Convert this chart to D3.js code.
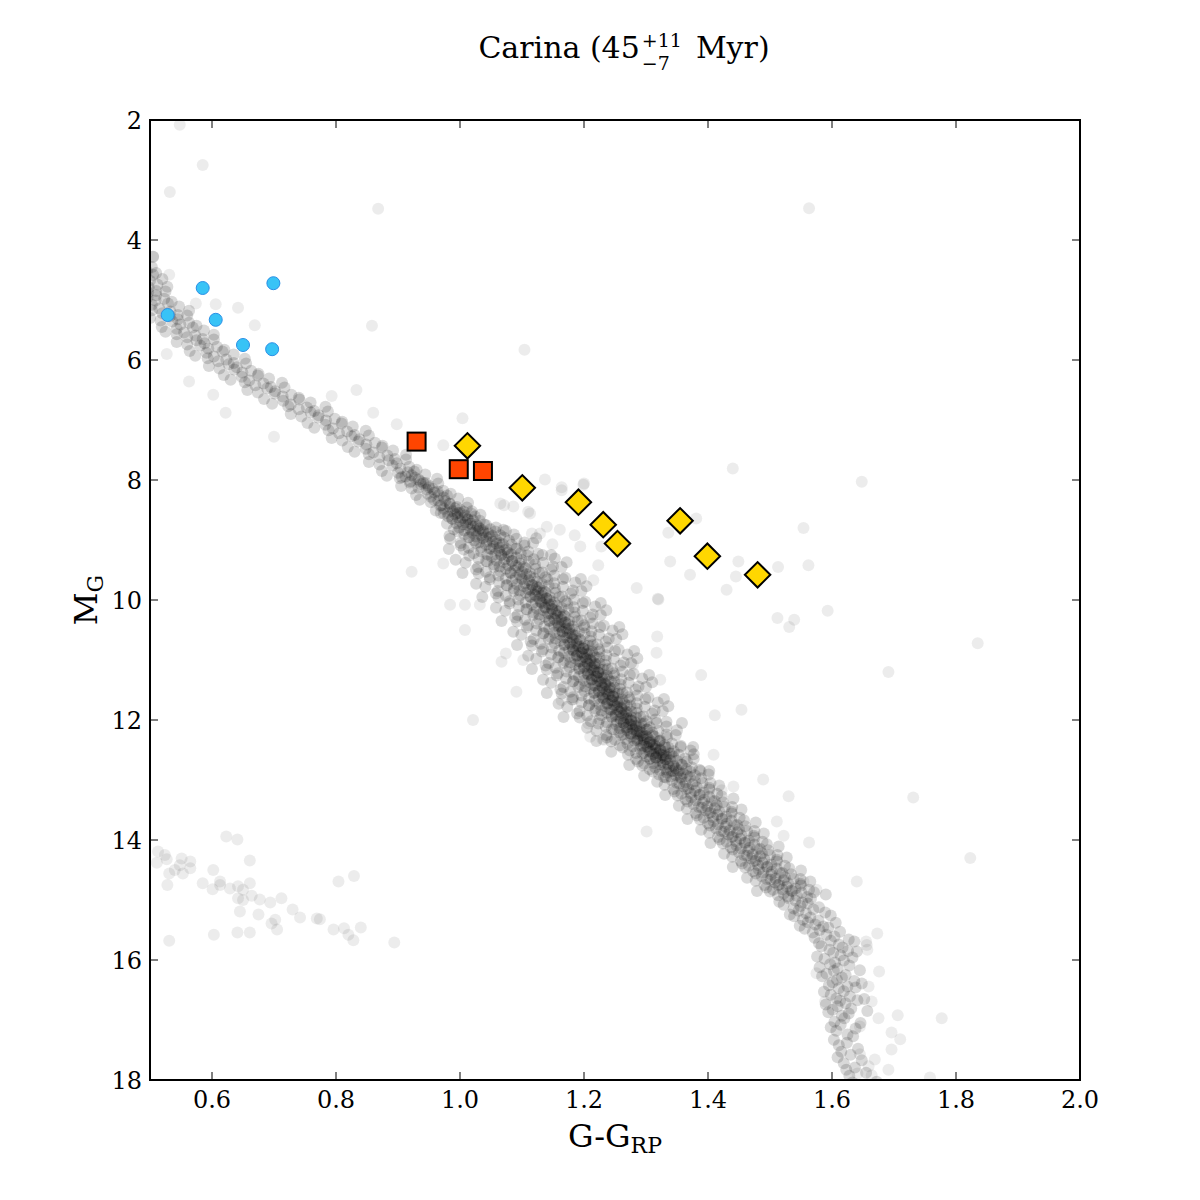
<!DOCTYPE html>
<html>
<head>
<meta charset="utf-8">
<script src="https://cdn.jsdelivr.net/npm/d3@7"></script>
<style>
  body { margin: 0; background: #fff; }
  svg { display: block; }
  text { font-family: "DejaVu Serif", serif; fill: #000; }
</style>
</head>
<body>
<div id="chart"></div>
<script>
// tick values
const xTicks = [0.6, 0.8, 1.0, 1.2, 1.4, 1.6, 1.8, 2.0];
const yTicks = [2, 4, 6, 8, 10, 12, 14, 16, 18];

// cluster sequence (G-G_RP, M_G)
const bandStars = [
  [0.492,4.32],[0.505,4.28],[0.488,4.42],[0.503,4.45],
  [0.495,4.52],[0.485,4.48],[0.510,4.55],[0.490,4.62],[0.505,4.58],[0.520,4.65],
  [0.488,4.72],[0.500,4.68],[0.512,4.74],
  [0.485,4.82],[0.498,4.79],[0.510,4.85],[0.528,4.78],
  [0.482,4.94],[0.497,4.87],[0.510,4.92],[0.525,4.86],
  [0.479,5.05],[0.496,4.96],[0.509,5.01],[0.523,4.98],[0.535,5.03],
  [0.485,5.13],[0.503,5.08],[0.515,5.14],[0.529,5.06],[0.547,5.11],
  [0.503,5.17],[0.520,5.22],[0.533,5.19],[0.545,5.25],[0.563,5.18],
  [0.500,5.30],[0.517,5.34],[0.532,5.27],[0.545,5.32],[0.560,5.26],
  [0.519,5.45],[0.536,5.36],[0.549,5.41],[0.563,5.38],[0.575,5.43],
  [0.525,5.53],[0.543,5.48],[0.555,5.54],[0.569,5.46],[0.587,5.51],
  [0.543,5.57],[0.560,5.62],[0.573,5.59],[0.585,5.65],[0.603,5.58],
  [0.543,5.70],[0.560,5.74],[0.575,5.67],[0.588,5.72],[0.603,5.66],
  [0.564,5.85],[0.581,5.76],[0.594,5.81],[0.608,5.78],[0.620,5.83],
  [0.573,5.93],[0.591,5.88],[0.603,5.94],[0.617,5.86],[0.635,5.91],
  [0.593,5.97],[0.610,6.02],[0.623,5.99],[0.635,6.05],[0.653,5.98],
  [0.595,6.10],[0.612,6.14],[0.627,6.07],[0.640,6.12],[0.655,6.06],
  [0.619,6.25],[0.636,6.16],[0.649,6.21],[0.663,6.18],[0.675,6.23],
  [0.630,6.33],[0.648,6.28],[0.660,6.34],[0.674,6.26],[0.692,6.31],
  [0.653,6.37],[0.670,6.42],[0.683,6.39],[0.695,6.45],[0.713,6.38],
  [0.657,6.50],[0.674,6.54],[0.689,6.47],[0.702,6.52],[0.717,6.46],
  [0.684,6.65],[0.701,6.56],[0.714,6.61],[0.728,6.58],[0.740,6.63],
  [0.697,6.73],[0.715,6.68],[0.727,6.74],[0.741,6.66],[0.759,6.71],
  [0.723,6.77],[0.740,6.82],[0.753,6.79],[0.765,6.85],[0.783,6.78],
  [0.727,6.90],[0.744,6.94],[0.759,6.87],[0.772,6.92],[0.787,6.86],
  [0.754,7.05],[0.771,6.96],[0.784,7.01],[0.798,6.98],[0.810,7.03],
  [0.765,7.13],[0.783,7.08],[0.795,7.14],[0.809,7.06],[0.827,7.11],
  [0.788,7.17],[0.805,7.22],[0.818,7.19],[0.830,7.25],[0.848,7.18],
  [0.793,7.30],[0.810,7.34],[0.825,7.27],[0.838,7.32],[0.853,7.26],
  [0.819,7.45],[0.836,7.36],[0.849,7.41],[0.863,7.38],[0.875,7.43],
  [0.830,7.53],[0.848,7.48],[0.860,7.54],[0.874,7.46],[0.892,7.51],
  [0.853,7.57],[0.870,7.62],[0.883,7.59],[0.895,7.65],[0.913,7.58],
  [0.853,7.70],[0.870,7.74],[0.885,7.67],[0.898,7.72],[0.913,7.66],
  [0.874,7.85],[0.891,7.76],[0.904,7.81],[0.918,7.78],[0.930,7.83],
  [0.882,7.93],[0.900,7.88],[0.912,7.94],[0.926,7.86],[0.944,7.91],[0.906,7.95],[0.916,7.87],[0.922,7.92],
  [0.903,7.97],[0.920,8.02],[0.933,7.99],[0.945,8.05],[0.963,7.98],[0.919,8.04],[0.927,7.96],[0.936,8.02],
  [0.905,8.10],[0.922,8.14],[0.937,8.07],[0.950,8.12],[0.965,8.06],[0.933,8.13],[0.941,8.05],[0.949,8.09],
  [0.929,8.25],[0.946,8.16],[0.959,8.21],[0.973,8.18],[0.985,8.23],[0.948,8.23],[0.956,8.15],[0.964,8.19],
  [0.935,8.33],[0.953,8.28],[0.965,8.34],[0.979,8.26],[0.997,8.31],[0.958,8.33],[0.966,8.25],[0.974,8.29],
  [0.953,8.37],[0.970,8.42],[0.983,8.39],[0.995,8.45],[1.013,8.38],[0.968,8.43],[0.976,8.35],[0.984,8.40],
  [0.961,8.51],[0.969,8.55],[0.974,8.48],[0.980,8.54],[0.984,8.45],[0.988,8.52],[0.992,8.47],[0.996,8.55],[1.000,8.49],[1.006,8.53],[1.011,8.46],[1.019,8.52],
  [0.974,8.56],[0.981,8.61],[0.987,8.64],[0.992,8.57],[0.996,8.62],[1.000,8.55],[1.004,8.63],[1.008,8.59],[1.012,8.65],[1.018,8.56],[1.024,8.61],[1.033,8.58],
  [0.979,8.73],[0.988,8.65],[0.994,8.72],[1.000,8.68],[1.005,8.74],[1.009,8.71],[1.013,8.66],[1.017,8.73],[1.021,8.67],[1.026,8.75],[1.032,8.68],[1.039,8.74],
  [0.990,8.82],[0.999,8.79],[1.007,8.84],[1.012,8.75],[1.017,8.83],[1.021,8.78],[1.025,8.85],[1.029,8.77],[1.032,8.81],[1.037,8.84],[1.042,8.75],[1.049,8.82],[1.058,8.79],[1.070,8.83],
  [0.983,8.93],[0.997,8.86],[1.007,8.91],[1.015,8.95],[1.020,8.88],[1.026,8.94],[1.030,8.85],[1.034,8.92],[1.038,8.87],[1.042,8.95],[1.046,8.89],[1.052,8.93],[1.057,8.86],[1.065,8.92],[1.074,8.85],[1.087,8.91],
  [0.984,8.98],[1.001,9.05],[1.014,8.96],[1.023,9.01],[1.031,9.04],[1.037,8.97],[1.043,9.02],[1.048,8.95],[1.053,9.03],[1.058,8.99],[1.064,9.05],[1.071,8.96],[1.079,9.01],[1.091,8.98],[1.104,9.04],[1.123,8.97],
  [0.982,9.15],[1.001,9.09],[1.014,9.13],[1.026,9.05],[1.034,9.12],[1.042,9.08],[1.048,9.14],[1.054,9.11],[1.059,9.06],[1.064,9.13],[1.069,9.07],[1.075,9.15],[1.083,9.08],[1.092,9.14],[1.104,9.09],[1.118,9.05],
  [1.006,9.16],[1.022,9.22],[1.034,9.19],[1.044,9.24],[1.051,9.15],[1.057,9.23],[1.063,9.18],[1.067,9.25],[1.072,9.17],[1.077,9.21],[1.083,9.24],[1.090,9.15],[1.098,9.22],[1.110,9.19],[1.126,9.23],[1.147,9.25],
  [0.993,9.33],[1.015,9.26],[1.030,9.31],[1.042,9.35],[1.051,9.28],[1.059,9.34],[1.066,9.25],[1.072,9.32],[1.078,9.27],[1.084,9.35],[1.091,9.29],[1.099,9.33],[1.108,9.26],[1.119,9.32],[1.133,9.25],[1.153,9.31],
  [1.009,9.38],[1.029,9.45],[1.044,9.36],[1.055,9.41],[1.064,9.44],[1.071,9.37],[1.078,9.42],[1.084,9.35],[1.090,9.43],[1.096,9.39],[1.103,9.45],[1.111,9.36],[1.121,9.41],[1.134,9.38],[1.150,9.44],[1.172,9.37],
  [1.004,9.55],[1.026,9.49],[1.042,9.53],[1.055,9.45],[1.065,9.52],[1.074,9.48],[1.081,9.54],[1.088,9.51],[1.094,9.46],[1.100,9.53],[1.106,9.47],[1.113,9.55],[1.122,9.48],[1.133,9.54],[1.147,9.49],[1.164,9.45],
  [1.030,9.56],[1.048,9.62],[1.062,9.59],[1.074,9.64],[1.082,9.55],[1.090,9.63],[1.096,9.58],[1.101,9.65],[1.107,9.57],[1.113,9.61],[1.120,9.64],[1.128,9.55],[1.138,9.62],[1.152,9.59],[1.170,9.63],[1.195,9.65],
  [1.026,9.73],[1.048,9.66],[1.063,9.71],[1.075,9.75],[1.084,9.68],[1.092,9.74],[1.099,9.65],[1.105,9.72],[1.111,9.67],[1.117,9.75],[1.124,9.69],[1.132,9.73],[1.141,9.66],[1.152,9.72],[1.166,9.65],[1.186,9.71],
  [1.041,9.78],[1.061,9.85],[1.076,9.76],[1.087,9.81],[1.096,9.84],[1.103,9.77],[1.110,9.82],[1.116,9.75],[1.122,9.83],[1.128,9.79],[1.135,9.85],[1.143,9.76],[1.153,9.81],[1.166,9.78],[1.182,9.84],[1.204,9.77],[1.114,9.83],[1.124,9.78],
  [1.036,9.95],[1.058,9.89],[1.074,9.93],[1.087,9.85],[1.097,9.92],[1.106,9.88],[1.113,9.94],[1.120,9.91],[1.126,9.86],[1.132,9.93],[1.138,9.87],[1.145,9.95],[1.154,9.88],[1.165,9.94],[1.179,9.89],[1.196,9.85],[1.122,9.93],[1.132,9.88],
  [1.062,9.96],[1.080,10.02],[1.094,9.99],[1.106,10.04],[1.114,9.95],[1.122,10.03],[1.128,9.98],[1.133,10.05],[1.139,9.97],[1.145,10.01],[1.152,10.04],[1.160,9.95],[1.170,10.02],[1.184,9.99],[1.202,10.03],[1.227,10.05],[1.130,10.03],[1.140,9.98],
  [1.058,10.13],[1.080,10.06],[1.095,10.11],[1.107,10.15],[1.116,10.08],[1.124,10.14],[1.131,10.05],[1.137,10.12],[1.143,10.07],[1.149,10.15],[1.156,10.09],[1.164,10.13],[1.173,10.06],[1.184,10.12],[1.198,10.05],[1.218,10.11],[1.138,10.13],[1.148,10.08],
  [1.073,10.18],[1.093,10.25],[1.108,10.16],[1.119,10.21],[1.128,10.24],[1.135,10.17],[1.142,10.22],[1.148,10.15],[1.154,10.23],[1.160,10.19],[1.167,10.25],[1.175,10.16],[1.185,10.21],[1.198,10.18],[1.214,10.24],[1.236,10.17],[1.146,10.23],[1.156,10.18],
  [1.067,10.35],[1.089,10.29],[1.105,10.33],[1.118,10.25],[1.128,10.32],[1.137,10.28],[1.144,10.34],[1.151,10.31],[1.157,10.26],[1.163,10.33],[1.169,10.27],[1.176,10.35],[1.185,10.28],[1.196,10.34],[1.210,10.29],[1.227,10.25],[1.153,10.33],[1.163,10.28],
  [1.092,10.36],[1.110,10.42],[1.124,10.39],[1.136,10.44],[1.144,10.35],[1.152,10.43],[1.158,10.38],[1.163,10.45],[1.169,10.37],[1.175,10.41],[1.182,10.44],[1.190,10.35],[1.200,10.42],[1.214,10.39],[1.232,10.43],[1.257,10.45],[1.160,10.43],[1.170,10.38],
  [1.086,10.53],[1.108,10.46],[1.123,10.51],[1.135,10.55],[1.144,10.48],[1.152,10.54],[1.159,10.45],[1.165,10.52],[1.171,10.47],[1.177,10.55],[1.184,10.49],[1.192,10.53],[1.201,10.46],[1.212,10.52],[1.226,10.45],[1.246,10.51],[1.166,10.53],[1.176,10.48],
  [1.099,10.58],[1.119,10.65],[1.134,10.56],[1.145,10.61],[1.154,10.64],[1.161,10.57],[1.168,10.62],[1.174,10.55],[1.180,10.63],[1.186,10.59],[1.193,10.65],[1.201,10.56],[1.211,10.61],[1.224,10.58],[1.240,10.64],[1.262,10.57],[1.172,10.63],[1.182,10.58],
  [1.092,10.75],[1.114,10.69],[1.130,10.73],[1.143,10.65],[1.153,10.72],[1.162,10.68],[1.169,10.74],[1.176,10.71],[1.182,10.66],[1.188,10.73],[1.194,10.67],[1.201,10.75],[1.210,10.68],[1.221,10.74],[1.235,10.69],[1.252,10.65],[1.178,10.73],[1.188,10.68],
  [1.116,10.76],[1.134,10.82],[1.148,10.79],[1.160,10.84],[1.168,10.75],[1.176,10.83],[1.182,10.78],[1.187,10.85],[1.193,10.77],[1.199,10.81],[1.206,10.84],[1.214,10.75],[1.224,10.82],[1.238,10.79],[1.256,10.83],[1.281,10.85],
  [1.182,10.83],[1.191,10.78],[1.199,10.81],[1.207,10.76],
  [1.110,10.93],[1.132,10.86],[1.147,10.91],[1.159,10.95],[1.168,10.88],[1.176,10.94],[1.183,10.85],[1.189,10.92],[1.195,10.87],[1.201,10.95],[1.208,10.89],[1.216,10.93],[1.225,10.86],[1.236,10.92],[1.250,10.85],[1.270,10.91],
  [1.188,10.93],[1.197,10.88],[1.205,10.91],[1.213,10.86],
  [1.123,10.98],[1.143,11.05],[1.158,10.96],[1.169,11.01],[1.178,11.04],[1.185,10.97],[1.192,11.02],[1.198,10.95],[1.204,11.03],[1.210,10.99],[1.217,11.05],[1.225,10.96],[1.235,11.01],[1.248,10.98],[1.264,11.04],[1.286,10.97],
  [1.194,11.03],[1.203,10.98],[1.211,11.01],[1.219,10.96],
  [1.116,11.15],[1.138,11.09],[1.154,11.13],[1.167,11.05],[1.177,11.12],[1.186,11.08],[1.193,11.14],[1.200,11.11],[1.206,11.06],[1.212,11.13],[1.218,11.07],[1.225,11.15],[1.234,11.08],[1.245,11.14],[1.259,11.09],[1.276,11.05],
  [1.200,11.13],[1.209,11.08],[1.217,11.11],[1.225,11.06],
  [1.140,11.16],[1.158,11.22],[1.172,11.19],[1.184,11.24],[1.192,11.15],[1.200,11.23],[1.206,11.18],[1.211,11.25],[1.217,11.17],[1.223,11.21],[1.230,11.24],[1.238,11.15],[1.248,11.22],[1.262,11.19],[1.280,11.23],[1.305,11.25],
  [1.206,11.23],[1.215,11.18],[1.223,11.21],[1.231,11.16],
  [1.134,11.33],[1.156,11.26],[1.171,11.31],[1.183,11.35],[1.192,11.28],[1.200,11.34],[1.207,11.25],[1.213,11.32],[1.219,11.27],[1.225,11.35],[1.232,11.29],[1.240,11.33],[1.249,11.26],[1.260,11.32],[1.274,11.25],[1.294,11.31],
  [1.212,11.33],[1.221,11.28],[1.229,11.31],[1.237,11.26],
  [1.147,11.38],[1.167,11.45],[1.182,11.36],[1.193,11.41],[1.202,11.44],[1.209,11.37],[1.216,11.42],[1.222,11.35],[1.228,11.43],[1.234,11.39],[1.241,11.45],[1.249,11.36],[1.259,11.41],[1.272,11.38],[1.288,11.44],[1.310,11.37],
  [1.218,11.43],[1.227,11.38],[1.235,11.41],[1.243,11.36],
  [1.140,11.55],[1.162,11.49],[1.178,11.53],[1.191,11.45],[1.201,11.52],[1.210,11.48],[1.217,11.54],[1.224,11.51],[1.230,11.46],[1.236,11.53],[1.242,11.47],[1.249,11.55],[1.258,11.48],[1.269,11.54],[1.283,11.49],[1.300,11.45],
  [1.224,11.53],[1.233,11.48],[1.241,11.51],[1.249,11.46],
  [1.164,11.56],[1.182,11.62],[1.196,11.59],[1.208,11.64],[1.216,11.55],[1.224,11.63],[1.230,11.58],[1.235,11.65],[1.241,11.57],[1.247,11.61],[1.254,11.64],[1.262,11.55],[1.272,11.62],[1.286,11.59],[1.304,11.63],[1.329,11.65],
  [1.230,11.63],[1.239,11.58],[1.247,11.61],[1.255,11.56],
  [1.159,11.73],[1.181,11.66],[1.196,11.71],[1.208,11.75],[1.217,11.68],[1.225,11.74],[1.232,11.65],[1.238,11.72],[1.244,11.67],[1.250,11.75],[1.257,11.69],[1.265,11.73],[1.274,11.66],[1.285,11.72],[1.299,11.65],[1.319,11.71],
  [1.237,11.73],[1.246,11.68],[1.254,11.71],[1.262,11.66],
  [1.173,11.78],[1.193,11.85],[1.208,11.76],[1.219,11.81],[1.228,11.84],[1.235,11.77],[1.242,11.82],[1.248,11.75],[1.254,11.83],[1.260,11.79],[1.267,11.85],[1.275,11.76],[1.285,11.81],[1.298,11.78],[1.314,11.84],[1.336,11.77],
  [1.244,11.83],[1.253,11.78],[1.261,11.81],[1.269,11.76],
  [1.167,11.95],[1.189,11.89],[1.205,11.93],[1.218,11.85],[1.228,11.92],[1.237,11.88],[1.244,11.94],[1.251,11.91],[1.257,11.86],[1.263,11.93],[1.269,11.87],[1.276,11.95],[1.285,11.88],[1.296,11.94],[1.310,11.89],[1.327,11.85],
  [1.251,11.93],[1.260,11.88],[1.268,11.91],[1.276,11.86],
  [1.193,11.96],[1.211,12.02],[1.225,11.99],[1.237,12.04],[1.245,11.95],[1.253,12.03],[1.259,11.98],[1.264,12.05],[1.270,11.97],[1.276,12.01],[1.283,12.04],[1.291,11.95],[1.301,12.02],[1.315,11.99],[1.333,12.03],[1.358,12.05],
  [1.259,12.03],[1.268,11.98],[1.276,12.01],[1.284,11.96],
  [1.205,12.13],[1.223,12.06],[1.235,12.11],[1.245,12.15],[1.252,12.08],[1.258,12.14],[1.264,12.05],[1.269,12.12],[1.273,12.07],[1.278,12.15],[1.284,12.09],[1.290,12.13],[1.297,12.06],[1.306,12.12],[1.317,12.05],[1.333,12.11],
  [1.267,12.13],[1.276,12.08],[1.284,12.11],[1.292,12.06],
  [1.220,12.18],[1.236,12.25],[1.248,12.16],[1.257,12.21],[1.264,12.24],[1.270,12.17],[1.275,12.22],[1.280,12.15],[1.285,12.23],[1.290,12.19],[1.295,12.25],[1.302,12.16],[1.310,12.21],[1.320,12.18],[1.333,12.24],[1.350,12.17],
  [1.276,12.23],[1.285,12.18],[1.293,12.21],[1.301,12.16],
  [1.220,12.35],[1.237,12.29],[1.250,12.33],[1.260,12.25],[1.268,12.32],[1.276,12.28],[1.281,12.34],[1.287,12.31],[1.292,12.26],[1.296,12.33],[1.301,12.27],[1.307,12.35],[1.314,12.28],[1.323,12.34],[1.334,12.29],[1.348,12.25],
  [1.286,12.33],[1.295,12.28],[1.303,12.31],[1.311,12.26],
  [1.244,12.36],[1.258,12.42],[1.270,12.39],[1.279,12.44],[1.286,12.35],[1.292,12.43],[1.297,12.38],[1.301,12.45],[1.306,12.37],[1.310,12.41],[1.316,12.44],[1.322,12.35],[1.330,12.42],[1.342,12.39],[1.356,12.43],[1.376,12.45],
  [1.296,12.43],[1.305,12.38],[1.313,12.41],[1.321,12.36],
  [1.244,12.53],[1.262,12.46],[1.274,12.51],[1.284,12.55],[1.291,12.48],[1.297,12.54],[1.303,12.45],[1.308,12.52],[1.312,12.47],[1.317,12.55],[1.323,12.49],[1.329,12.53],[1.336,12.46],[1.345,12.52],[1.356,12.45],[1.372,12.51],
  [1.306,12.53],[1.315,12.48],[1.323,12.51],[1.331,12.46],
  [1.271,12.58],[1.284,12.65],[1.294,12.56],[1.301,12.61],[1.307,12.64],[1.312,12.57],[1.316,12.62],[1.320,12.55],[1.324,12.63],[1.328,12.59],[1.332,12.65],[1.338,12.56],[1.344,12.61],[1.353,12.58],[1.363,12.64],[1.377,12.57],
  [1.316,12.63],[1.325,12.58],[1.333,12.61],[1.341,12.56],
  [1.273,12.75],[1.287,12.69],[1.297,12.73],[1.306,12.65],[1.312,12.72],[1.318,12.68],[1.323,12.74],[1.327,12.71],[1.331,12.66],[1.335,12.73],[1.339,12.67],[1.344,12.75],[1.350,12.68],[1.357,12.74],[1.366,12.69],[1.377,12.65],
  [1.294,12.76],[1.306,12.82],[1.315,12.79],[1.323,12.84],[1.328,12.75],[1.333,12.83],[1.337,12.78],[1.341,12.85],[1.345,12.77],[1.348,12.81],[1.353,12.84],[1.358,12.75],[1.365,12.82],[1.374,12.79],[1.386,12.83],[1.402,12.85],
  [1.297,12.93],[1.311,12.86],[1.321,12.91],[1.329,12.95],[1.334,12.88],[1.340,12.94],[1.344,12.85],[1.348,12.92],[1.352,12.87],[1.356,12.95],[1.360,12.89],[1.366,12.93],[1.371,12.86],[1.379,12.92],[1.388,12.85],[1.401,12.91],
  [1.318,13.03],[1.332,12.96],[1.342,13.01],[1.350,13.05],[1.357,12.98],[1.364,13.04],[1.371,12.95],[1.379,13.02],[1.389,12.97],[1.404,13.05],
  [1.330,13.08],[1.344,13.15],[1.354,13.06],[1.361,13.11],[1.368,13.14],[1.375,13.07],[1.382,13.12],[1.391,13.05],[1.402,13.13],[1.418,13.09],
  [1.331,13.25],[1.346,13.19],[1.357,13.23],[1.365,13.15],[1.372,13.22],[1.379,13.18],[1.386,13.24],[1.393,13.21],[1.402,13.16],[1.415,13.23],
  [1.351,13.26],[1.364,13.32],[1.373,13.29],[1.380,13.34],[1.387,13.25],[1.394,13.33],[1.402,13.28],[1.411,13.35],[1.422,13.27],[1.441,13.31],
  [1.353,13.43],[1.367,13.36],[1.377,13.41],[1.385,13.45],[1.392,13.38],[1.399,13.44],[1.406,13.35],[1.414,13.42],[1.424,13.37],[1.439,13.45],
  [1.366,13.48],[1.380,13.55],[1.390,13.46],[1.397,13.51],[1.404,13.54],[1.411,13.47],[1.418,13.52],[1.427,13.45],[1.438,13.53],[1.454,13.49],
  [1.367,13.65],[1.382,13.59],[1.393,13.63],[1.401,13.55],[1.408,13.62],[1.415,13.58],[1.422,13.64],[1.429,13.61],[1.438,13.56],[1.451,13.63],
  [1.387,13.66],[1.400,13.72],[1.409,13.69],[1.416,13.74],[1.423,13.65],[1.430,13.73],[1.438,13.68],[1.447,13.75],[1.458,13.67],[1.477,13.71],
  [1.389,13.83],[1.403,13.76],[1.413,13.81],[1.421,13.85],[1.428,13.78],[1.435,13.84],[1.442,13.75],[1.450,13.82],[1.460,13.77],[1.475,13.85],
  [1.402,13.88],[1.416,13.95],[1.426,13.86],[1.433,13.91],[1.440,13.94],[1.447,13.87],[1.454,13.92],[1.463,13.85],[1.474,13.93],[1.490,13.89],
  [1.404,14.05],[1.419,13.99],[1.430,14.03],[1.438,13.95],[1.445,14.02],[1.452,13.98],[1.459,14.04],[1.466,14.01],[1.475,13.96],[1.488,14.03],
  [1.424,14.06],[1.437,14.12],[1.446,14.09],[1.453,14.14],[1.460,14.05],[1.467,14.13],[1.475,14.08],[1.484,14.15],[1.495,14.07],[1.514,14.11],
  [1.426,14.23],[1.440,14.16],[1.450,14.21],[1.458,14.25],[1.465,14.18],[1.472,14.24],[1.479,14.15],[1.487,14.22],[1.497,14.17],[1.512,14.25],
  [1.439,14.28],[1.453,14.35],[1.463,14.26],[1.470,14.31],[1.477,14.34],[1.484,14.27],[1.491,14.32],[1.500,14.25],[1.511,14.33],[1.527,14.29],
  [1.440,14.45],[1.455,14.39],[1.466,14.43],[1.474,14.35],[1.481,14.42],[1.488,14.38],[1.495,14.44],[1.502,14.41],[1.511,14.36],[1.524,14.43],
  [1.460,14.46],[1.473,14.52],[1.482,14.49],[1.489,14.54],[1.496,14.45],[1.503,14.53],[1.511,14.48],[1.520,14.55],[1.531,14.47],[1.550,14.51],
  [1.463,14.63],[1.477,14.56],[1.487,14.61],[1.495,14.65],[1.502,14.58],[1.509,14.64],[1.516,14.55],[1.524,14.62],[1.534,14.57],[1.549,14.65],
  [1.477,14.68],[1.491,14.75],[1.501,14.66],[1.508,14.71],[1.515,14.74],[1.522,14.67],[1.529,14.72],[1.538,14.65],[1.549,14.73],[1.565,14.69],
  [1.479,14.85],[1.494,14.79],[1.505,14.83],[1.513,14.75],[1.520,14.82],[1.527,14.78],[1.534,14.84],[1.541,14.81],[1.550,14.76],[1.563,14.83],
  [1.500,14.86],[1.513,14.92],[1.522,14.89],[1.529,14.94],[1.536,14.85],[1.543,14.93],[1.551,14.88],[1.560,14.95],[1.571,14.87],[1.590,14.91],
  [1.515,15.03],[1.530,14.97],[1.541,15.01],[1.552,15.04],[1.566,14.98],
  [1.522,15.08],[1.538,15.14],[1.549,15.10],[1.561,15.06],[1.579,15.12],
  [1.532,15.24],[1.546,15.18],[1.558,15.22],[1.570,15.16],[1.589,15.21],
  [1.539,15.27],[1.553,15.33],[1.565,15.29],[1.578,15.34],[1.598,15.26],
  [1.548,15.43],[1.561,15.37],[1.573,15.41],[1.586,15.44],[1.606,15.38],
  [1.556,15.48],[1.569,15.54],[1.580,15.50],[1.594,15.46],[1.613,15.53],
  [1.572,15.63],[1.591,15.58],[1.604,15.61],[1.627,15.66],
  [1.579,15.72],[1.598,15.68],[1.611,15.74],[1.636,15.69],
  [1.583,15.77],[1.596,15.83],[1.617,15.79],[1.626,15.85],
  [1.576,15.94],[1.602,15.88],[1.614,15.92],[1.640,15.86],
  [1.588,15.98],[1.605,16.04],[1.619,16.01],[1.633,15.96],
  [1.580,16.12],[1.597,16.07],[1.609,16.14],[1.628,16.09],
  [1.591,16.23],[1.603,16.18],[1.622,16.25],[1.645,16.17],
  [1.584,16.27],[1.608,16.33],[1.616,16.29],[1.636,16.35],
  [1.595,16.42],[1.601,16.37],[1.625,16.44],[1.648,16.39],
  [1.587,16.53],[1.611,16.47],[1.619,16.52],[1.638,16.46],
  [1.598,16.58],[1.607,16.64],[1.629,16.61],[1.652,16.65],
  [1.590,16.74],[1.613,16.68],[1.622,16.72],[1.641,16.67],
  [1.601,16.83],[1.609,16.77],[1.631,16.81],[1.657,16.85],
  [1.594,16.87],[1.616,16.93],[1.627,16.89],
  [1.604,17.03],[1.620,16.97],[1.646,17.05],
  [1.598,17.12],[1.614,17.08],[1.638,17.14],
  [1.607,17.18],[1.625,17.24],[1.603,17.33],[1.634,17.27],
  [1.611,17.42],[1.624,17.38],[1.615,17.53],[1.642,17.48],
  [1.609,17.62],[1.630,17.58],[1.619,17.72],[1.648,17.67],
  [1.623,17.83],[1.637,17.79],[1.628,17.93],[1.655,17.88],
  [1.633,18.04],[1.672,18.03]
];

// scattered field stars and the faint sequence at lower left
const fieldStars = [
  [0.548,2.08],[0.585,2.75],[0.532,3.20],[0.868,3.48],[1.563,3.47],[0.505,4.28],[0.531,4.58],
  [0.574,5.06],[0.606,5.07],[0.642,5.13],[0.669,5.42],[0.858,5.43],[1.104,5.83],[0.527,5.90],
  [0.563,6.36],[0.602,6.58],[0.622,6.88],[0.833,6.50],[0.793,6.60],[0.860,6.88],[0.898,7.07],
  [1.004,6.97],[0.700,7.28],[0.973,7.42],[1.440,7.81],[1.648,8.03],[1.137,7.99],[1.164,8.12],
  [1.200,8.06],[1.065,8.39],[1.086,8.44],[1.110,8.53],[1.071,8.42],[1.129,8.89],[1.140,8.78],
  [1.116,8.89],[1.336,8.88],[1.381,8.64],[1.339,9.36],[1.371,9.58],[1.449,9.36],[1.513,9.45],
  [1.430,9.83],[1.285,9.80],[1.215,9.67],[0.922,9.53],[0.973,9.39],[1.554,8.80],[1.445,9.61],
  [1.562,9.42],[1.320,9.99],[1.512,10.30],[1.539,10.33],[1.531,10.45],[1.593,10.18],[1.835,10.72],
  [1.691,11.20],[1.389,11.25],[1.317,10.88],[0.984,10.08],[1.008,10.08],[1.032,10.08],[1.008,10.50],
  [1.021,12.00],[1.091,11.53],[1.067,11.03],[1.074,10.89],[1.102,11.00],[1.164,11.67],[1.183,11.66],
  [1.210,12.28],[1.230,12.32],[1.207,12.06],[1.411,11.92],[1.454,11.83],[1.318,10.61],[1.319,9.98],
  [1.279,11.08],[1.323,11.33],[1.409,12.58],[1.441,13.11],[1.422,13.17],[1.228,9.11],[1.223,9.42],
  [1.185,8.92],[1.161,8.83],[1.194,9.11],[1.149,9.07],[1.113,8.56],[1.164,8.17],[1.199,8.08],
  [1.489,12.99],[1.530,13.27],[1.301,13.86],[1.511,13.69],[1.522,13.93],[1.563,14.04],[1.731,13.29],
  [1.640,14.69],[1.673,15.56],[1.656,15.75],[1.676,16.19],[1.706,16.92],[1.575,16.22],[1.575,14.83],
  [1.554,14.69],[1.232,12.33],[1.823,14.30],[1.777,16.97],[1.696,17.21],[1.710,17.32],[1.696,17.49],
  [1.669,17.66],[1.659,17.77],[1.691,17.83],[1.645,17.57],[1.758,17.96],[1.675,16.97],[1.659,16.44],
  [1.664,16.69],[1.645,17.11],[1.589,16.69],[1.655,15.69],[1.657,15.83],[1.641,17.89],[1.664,17.92],
  [0.511,14.38],[0.524,14.25],[0.527,14.32],[0.513,14.19],[0.551,14.31],[0.565,14.36],[0.548,14.42],
  [0.540,14.50],[0.531,14.56],[0.553,14.56],[0.565,14.47],[0.528,14.75],[0.531,15.68],[0.585,14.72],
  [0.602,14.50],[0.601,14.82],[0.613,14.69],[0.613,14.75],[0.629,14.81],[0.642,14.77],[0.650,14.83],
  [0.661,14.72],[0.664,14.93],[0.642,14.97],[0.650,15.00],[0.677,14.99],[0.694,15.04],[0.712,14.97],
  [0.645,15.19],[0.675,15.24],[0.696,15.39],[0.702,15.33],[0.705,15.49],[0.730,15.16],[0.742,15.29],
  [0.769,15.31],[0.774,15.32],[0.796,15.49],[0.813,15.47],[0.820,15.58],[0.828,15.67],[0.840,15.46],
  [0.894,15.71],[0.804,14.69],[0.829,14.60],[0.661,14.34],[0.623,13.94],[0.641,13.99],[0.603,15.58],
  [0.641,15.54],[0.661,15.54]
];

// highlighted stars
const blueStars = [[0.5285,5.25],[0.585,4.80],[0.699,4.72],[0.606,5.33],[0.650,5.75],[0.697,5.82]];
const redStars = [[0.930,7.36],[0.998,7.82],[1.037,7.85]];
const goldStars = [[1.012,7.43],[1.1005,8.13],[1.191,8.37],[1.231,8.745],[1.254,9.06],[1.355,8.68],[1.399,9.27],[1.480,9.58]];

const width = 1200;
const height = 1200;
const margin = { top: 120, right: 120, bottom: 120, left: 150 };
const plotW = width - margin.left - margin.right;
const plotH = height - margin.top - margin.bottom;

const svg = d3.select('#chart')
  .append('svg')
  .attr('width', width)
  .attr('height', height);

const xScale = d3.scaleLinear().domain([0.5, 2.0]).range([margin.left, margin.left + plotW]);
const yScale = d3.scaleLinear().domain([2, 18]).range([margin.top, margin.top + plotH]);

svg.append('defs').append('clipPath')
  .attr('id', 'plot-clip')
  .append('rect')
  .attr('x', margin.left).attr('y', margin.top)
  .attr('width', plotW).attr('height', plotH);

const plot = svg.append('g').attr('clip-path', 'url(#plot-clip)');

// gray background stars
plot.append('g')
  .selectAll('circle')
  .data(fieldStars)
  .join('circle')
  .attr('cx', d => xScale(d[0]))
  .attr('cy', d => yScale(d[1]))
  .attr('r', 6)
  .attr('fill', '#000')
  .attr('fill-opacity', 0.075);

plot.append('g')
  .selectAll('circle')
  .data(bandStars)
  .join('circle')
  .attr('cx', d => xScale(d[0]))
  .attr('cy', d => yScale(d[1]))
  .attr('r', 6)
  .attr('fill', '#000')
  .attr('fill-opacity', 0.15);

// blue circles
plot.append('g')
  .selectAll('circle')
  .data(blueStars)
  .join('circle')
  .attr('cx', d => xScale(d[0]))
  .attr('cy', d => yScale(d[1]))
  .attr('r', 6.5)
  .attr('fill', '#38c3f6')
  .attr('stroke', '#2a8fe6')
  .attr('stroke-width', 1);

// red squares
plot.append('g')
  .selectAll('rect')
  .data(redStars)
  .join('rect')
  .attr('x', d => xScale(d[0]) - 9)
  .attr('y', d => yScale(d[1]) - 9)
  .attr('width', 18)
  .attr('height', 18)
  .attr('fill', '#ff4500')
  .attr('stroke', '#000')
  .attr('stroke-width', 2);

// gold diamonds
const diamond = d3.symbol().type(d3.symbolSquare).size(18 * 18);
plot.append('g')
  .selectAll('path')
  .data(goldStars)
  .join('path')
  .attr('d', diamond)
  .attr('transform', d => `translate(${xScale(d[0])},${yScale(d[1])}) rotate(45)`)
  .attr('fill', '#ffd700')
  .attr('stroke', '#000')
  .attr('stroke-width', 2);

// ticks (inward, on all four sides)
const tickLen = 8;
const ticks = svg.append('g').attr('stroke', '#000').attr('stroke-width', 1);
xTicks.forEach(t => {
  const x = xScale(t);
  ticks.append('line').attr('x1', x).attr('x2', x)
    .attr('y1', margin.top + plotH).attr('y2', margin.top + plotH - tickLen);
  ticks.append('line').attr('x1', x).attr('x2', x)
    .attr('y1', margin.top).attr('y2', margin.top + tickLen);
});
yTicks.forEach(t => {
  const y = yScale(t);
  ticks.append('line').attr('y1', y).attr('y2', y)
    .attr('x1', margin.left).attr('x2', margin.left + tickLen);
  ticks.append('line').attr('y1', y).attr('y2', y)
    .attr('x1', margin.left + plotW).attr('x2', margin.left + plotW - tickLen);
});

// frame
svg.append('rect')
  .attr('x', margin.left).attr('y', margin.top)
  .attr('width', plotW).attr('height', plotH)
  .attr('fill', 'none')
  .attr('stroke', '#000')
  .attr('stroke-width', 2);

// tick labels
svg.append('g')
  .selectAll('text')
  .data(xTicks)
  .join('text')
  .attr('x', d => xScale(d))
  .attr('y', margin.top + plotH + 28)
  .attr('text-anchor', 'middle')
  .attr('font-size', 24)
  .text(d => d3.format('.1f')(d));

svg.append('g')
  .selectAll('text')
  .data(yTicks)
  .join('text')
  .attr('x', margin.left - 8)
  .attr('y', d => yScale(d))
  .attr('dy', '0.36em')
  .attr('text-anchor', 'end')
  .attr('font-size', 24)
  .text(d => d);

// axis titles
const xLabel = svg.append('text')
  .attr('x', margin.left + plotW / 2)
  .attr('y', 1147)
  .attr('text-anchor', 'middle')
  .attr('font-size', 32);
xLabel.append('tspan').text('G-G');
xLabel.append('tspan').attr('dy', 6).attr('font-size', 22).text('RP');

const yLabel = svg.append('text')
  .attr('transform', `translate(97, ${margin.top + plotH / 2}) rotate(-90)`)
  .attr('text-anchor', 'middle')
  .attr('font-size', 32);
yLabel.append('tspan').text('M');
yLabel.append('tspan').attr('dy', 6).attr('font-size', 22).text('G');

// title with stacked age errors
const titleG = svg.append('g');
const t1 = titleG.append('text').attr('x', 0).attr('y', 58).attr('font-size', 30).text('Carina (45');
const w1 = t1.node().getComputedTextLength();
const sup = titleG.append('text').attr('x', w1 + 2).attr('y', 47).attr('font-size', 19).text('+11');
const sub = titleG.append('text').attr('x', w1 + 2).attr('y', 70).attr('font-size', 19).text('\u22127');
const wS = Math.max(sup.node().getComputedTextLength(), sub.node().getComputedTextLength());
const t2 = titleG.append('text').attr('x', w1 + 2 + wS + 14).attr('y', 58).attr('font-size', 30).text('Myr)');
const totalW = w1 + 2 + wS + 14 + t2.node().getComputedTextLength();
titleG.attr('transform', `translate(${624 - totalW / 2}, 0)`);
</script>
</body>
</html>
